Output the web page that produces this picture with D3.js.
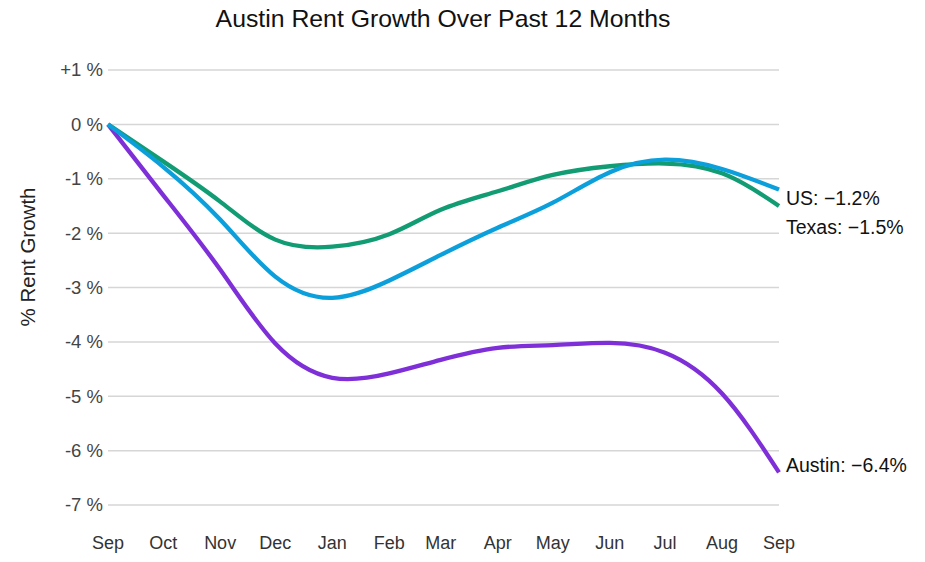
<!DOCTYPE html>
<html>
<head>
<meta charset="utf-8">
<script src="https://cdn.jsdelivr.net/npm/d3@7"></script>
<style>
  body { margin: 0; background: #fff; }
  svg { display: block; }
  text { font-family: "Liberation Sans", Arial, sans-serif; }
</style>
</head>
<body>
<svg id="chart" width="925" height="562"></svg>
<script>
const months = ["2022-09-01","2022-10-01","2022-11-01","2022-12-01","2023-01-01","2023-02-01","2023-03-01","2023-04-01","2023-05-01","2023-06-01","2023-07-01","2023-08-01","2023-09-01"];
const monthLabels = ["Sep","Oct","Nov","Dec","Jan","Feb","Mar","Apr","May","Jun","Jul","Aug","Sep"];
const usValues     = [0, -0.78, -1.75, -2.80, -3.19, -2.87, -2.40, -1.90, -1.44, -0.88, -0.65, -0.82, -1.2];
const texasValues  = [0, -0.68, -1.42, -2.12, -2.25, -2.02, -1.57, -1.23, -0.93, -0.77, -0.72, -0.90, -1.5];
const austinValues = [0, -1.30, -2.67, -4.03, -4.66, -4.58, -4.33, -4.11, -4.06, -4.02, -4.20, -4.95, -6.4];
const yTicks = [1, 0, -1, -2, -3, -4, -5, -6, -7];
const yTickLabels = ["+1 %", "0 %", "-1 %", "-2 %", "-3 %", "-4 %", "-5 %", "-6 %", "-7 %"];
const seriesNames = ["US", "Texas", "Austin"];
const endLabels = ["US: \u22121.2%", "Texas: \u22121.5%", "Austin: \u22126.4%"];
const colors = ["#0b9fdc", "#119c73", "#7e2fd8"];

const svg = d3.select("#chart");
const dates = months.map(d => new Date(d + "T00:00:00Z"));
const x = d3.scaleUtc().domain([dates[0], dates[dates.length - 1]]).range([108, 779]);
const y = d3.scaleLinear().domain([-7, 1]).range([505, 70]);

// title
svg.append("text").attr("x", 443).attr("y", 27).attr("text-anchor", "middle")
  .attr("font-size", 24.8).attr("fill", "#111").text("Austin Rent Growth Over Past 12 Months");

// gridlines
svg.append("g").selectAll("line").data(yTicks).join("line")
  .attr("x1", 108).attr("x2", 779)
  .attr("y1", d => y(d)).attr("y2", d => y(d))
  .attr("stroke", "#d6d6d6").attr("stroke-width", 1.5);

// y tick labels
svg.append("g").selectAll("text").data(yTicks).join("text")
  .attr("x", 103).attr("y", d => y(d)).attr("dy", "0.35em")
  .attr("text-anchor", "end").attr("font-size", 18.5).attr("fill", "#444")
  .text((d, i) => yTickLabels[i]);

// y axis title
svg.append("text").attr("transform", "translate(35,257) rotate(-90)")
  .attr("text-anchor", "middle").attr("font-size", 20.5).attr("fill", "#222")
  .text("% Rent Growth");

// x tick labels
svg.append("g").selectAll("text").data(dates).join("text")
  .attr("x", d => x(d)).attr("y", 548.5)
  .attr("text-anchor", "middle").attr("font-size", 18).attr("fill", "#333")
  .text((d, i) => monthLabels[i]);

const allSeries = [usValues, texasValues, austinValues];
const line = d3.line().x((d, i) => x(dates[i])).y(d => y(d)).curve(d3.curveNatural);

const order = [2, 1, 0];
order.forEach(k => {
  svg.append("path").datum(allSeries[k])
    .attr("d", line).attr("fill", "none")
    .attr("stroke", colors[k]).attr("stroke-width", 4.3)
    .attr("stroke-linejoin", "round").attr("stroke-linecap", "butt");
});

// end labels
const labelY = [198, 227, 465];
endLabels.forEach((t, k) => {
  svg.append("text").attr("x", 786).attr("y", labelY[k]).attr("dy", "0.35em")
    .attr("font-size", 19.5).attr("fill", "#111").text(t);
});
</script>
</body>
</html>
